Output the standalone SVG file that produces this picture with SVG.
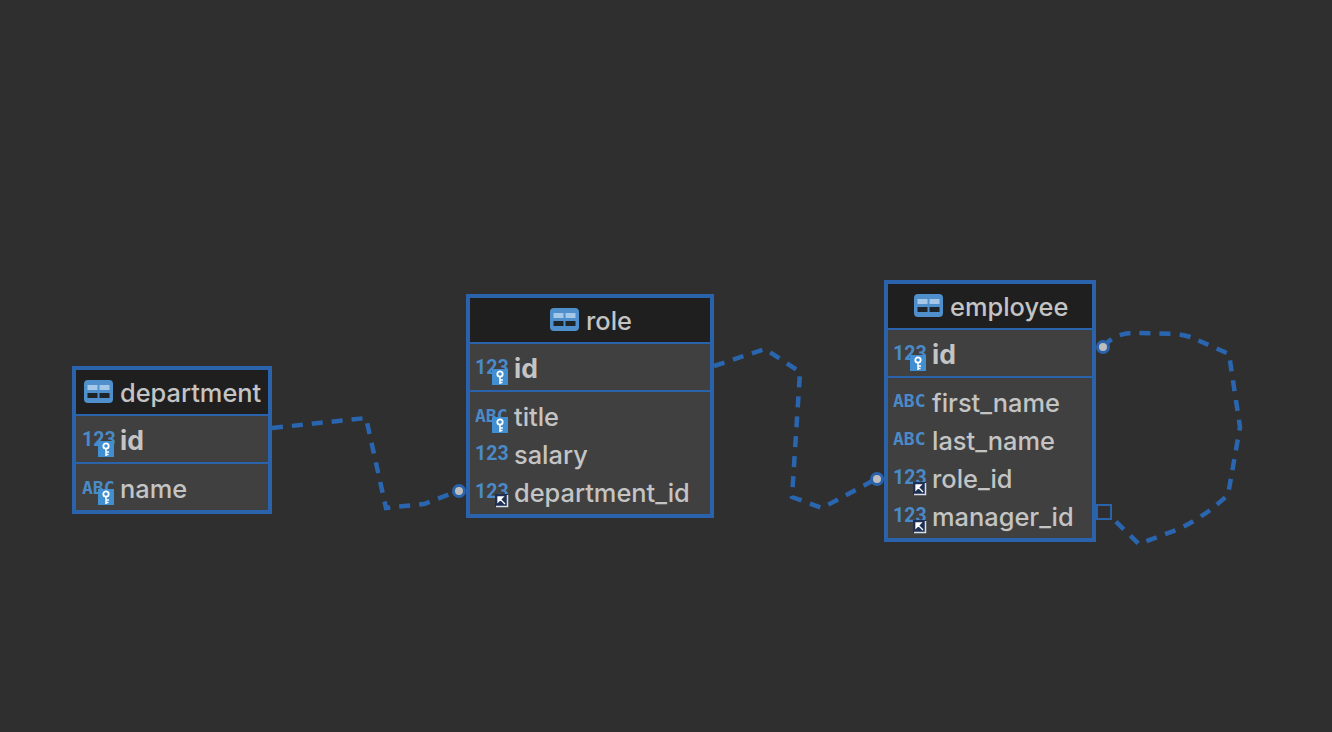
<svg xmlns="http://www.w3.org/2000/svg" width="1332" height="732" viewBox="0 0 1332 732">
<style>
.box{fill:#404040;stroke:#2a62ac;stroke-width:4}
.head{fill:#1f1f1f}
.sep{stroke:#2a62ac;stroke-width:2}
.t{font-family:Inter,"Noto Sans",sans-serif;font-size:25.4px;font-weight:500;fill:#c4c4c4}
.b{font-weight:700;font-size:26.5px}
.ty{font-family:Roboto,sans-serif;font-size:19.5px;font-weight:700;fill:#4a8ac8}
.abc{font-family:"DejaVu Sans Mono",monospace;font-size:18px;font-weight:700;fill:#4a8ac8}
.conn{fill:none;stroke:#2a66b0;stroke-width:4.500;stroke-dasharray:11 9}
.dot{fill:#bdbdbd;stroke:#2a62ac;stroke-width:3}
.sq{fill:none;stroke:#2a62ac;stroke-width:2}
</style>
<defs>
<g id="tbl"><rect x="0" y="0" width="29" height="23" rx="4" fill="#4f8fcc"/><rect x="3.500" y="5" width="10" height="5" fill="#a5c8e8"/><rect x="15.500" y="5" width="10" height="5" fill="#a5c8e8"/><rect x="3.500" y="13" width="10" height="5" fill="#1f2428"/><rect x="15.500" y="13" width="10" height="5" fill="#1f2428"/></g>
<g id="key"><rect x="0" y="0" width="16" height="16" fill="#3f8fd2"/><circle cx="8" cy="5" r="2.700" fill="none" stroke="#fff" stroke-width="1.800"/><path d="M8 7.500V15M8 11H11M8 13.500H10.500" stroke="#fff" stroke-width="1.500" fill="none"/></g>
<g id="fk"><rect x="0" y="0" width="13" height="13" fill="#1d2f55"/><path d="M12.500 1V12.500H1" fill="none" stroke="#d8dde6" stroke-width="1.500"/><path d="M3 3H8L3 8ZM5 5L10 10" fill="#fff" stroke="#fff" stroke-width="1.300"/></g>
</defs>
<rect width="1332" height="732" fill="#2f2f2f"/>
<g id="connectors">
<path class="conn" d="M272 428L366 418L386 508L424 504L458 491"/>
<path class="conn" d="M714 366L765 349L800 372L792 497L822 508L876 479"/>
<path class="conn" d="M1103 346L1113 338Q1125 332 1137 333L1177 334Q1190 336 1195 339L1229 354L1240 427L1228 495L1213 508Q1197 520 1179 529L1139 544L1111 517"/>
</g>
<g id="department">
<rect class="box" x="74" y="368" width="196" height="144"/>
<rect class="head" x="76" y="370" width="192" height="44"/>
<path class="sep" d="M76 415H268M76 463H268"/>
<use href="#tbl" x="84" y="380"/>
<text class="t" x="120" y="402">department</text>
<text class="ty" x="82" y="446">123</text><use href="#key" x="98" y="441"/>
<text class="t b" x="120" y="450">id</text>
<text class="abc" x="82" y="494">ABC</text><use href="#key" x="98" y="489"/>
<text class="t" x="120" y="498">name</text>
</g>
<g id="role">
<rect class="box" x="468" y="296" width="244" height="220"/>
<rect class="head" x="470" y="298" width="240" height="44"/>
<path class="sep" d="M470 343H710M470 391H710"/>
<use href="#tbl" x="550" y="308"/>
<text class="t" x="586" y="330">role</text>
<text class="ty" x="475" y="374">123</text><use href="#key" x="492" y="369"/>
<text class="t b" x="514" y="378">id</text>
<text class="abc" x="475" y="422">ABC</text><use href="#key" x="492" y="417"/>
<text class="t" x="514" y="426">title</text>
<text class="ty" x="475" y="460">123</text>
<text class="t" x="514" y="464">salary</text>
<text class="ty" x="475" y="498">123</text><use href="#fk" x="495" y="494"/>
<text class="t" x="514" y="502">department_id</text>
<circle class="dot" cx="459" cy="491" r="5.500"/>
</g>
<g id="employee">
<rect class="box" x="886" y="282" width="208" height="258"/>
<rect class="head" x="888" y="284" width="204" height="44"/>
<path class="sep" d="M888 329H1092M888 377H1092"/>
<use href="#tbl" x="914" y="294"/>
<text class="t" x="950" y="316">employee</text>
<text class="ty" x="893" y="360">123</text><use href="#key" x="910" y="355"/>
<text class="t b" x="932" y="364">id</text>
<text class="abc" x="893" y="407">ABC</text>
<text class="t" x="932" y="412">first_name</text>
<text class="abc" x="893" y="445">ABC</text>
<text class="t" x="932" y="450">last_name</text>
<text class="ty" x="893" y="484">123</text><use href="#fk" x="913" y="482"/>
<text class="t" x="932" y="488">role_id</text>
<text class="ty" x="893" y="522">123</text><use href="#fk" x="913" y="520"/>
<text class="t" x="932" y="526">manager_id</text>
<circle class="dot" cx="877" cy="479" r="5.500"/>
<circle class="dot" cx="1103" cy="347" r="5.500"/>
<rect class="sq" x="1097" y="505" width="14" height="14"/>
</g>
</svg>
